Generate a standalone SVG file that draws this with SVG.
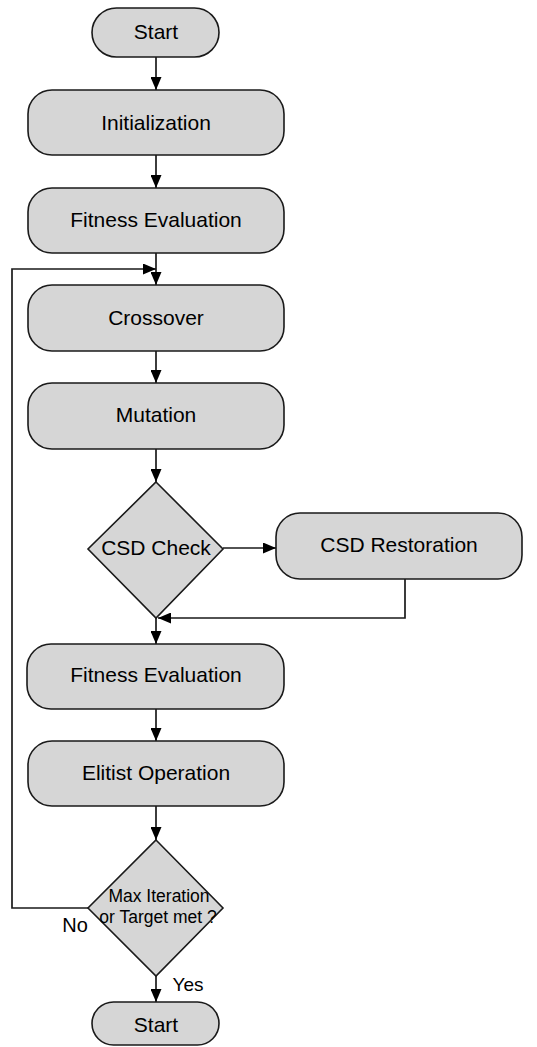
<svg xmlns="http://www.w3.org/2000/svg" width="537" height="1047" viewBox="0 0 537 1047">
<style>
.box{fill:#d6d6d6;stroke:#1a1a1a;stroke-width:1.6}
.lbl{font-family:"Liberation Sans",Arial,sans-serif;font-size:21px;fill:#000;text-anchor:middle}
.sm{font-family:"Liberation Sans",Arial,sans-serif;font-size:17.5px;fill:#000;text-anchor:middle}
.edge{fill:none;stroke:#1a1a1a;stroke-width:1.7}
</style>
<defs>
<marker id="ah" viewBox="0 0 13 11" refX="13" refY="5.5" markerWidth="13" markerHeight="11" markerUnits="userSpaceOnUse" orient="auto">
<path d="M0,0 L13,5.5 L0,11 Z" fill="#000"/>
</marker>
</defs>
<rect width="537" height="1047" fill="#fff"/>
<g id="connectors">
<line class="edge" x1="156" y1="57" x2="156" y2="90" marker-end="url(#ah)"/>
<line class="edge" x1="156" y1="155" x2="156" y2="188" marker-end="url(#ah)"/>
<line class="edge" x1="156" y1="253" x2="156" y2="285" marker-end="url(#ah)"/>
<line class="edge" x1="156" y1="351" x2="156" y2="383" marker-end="url(#ah)"/>
<line class="edge" x1="156" y1="449" x2="156" y2="482" marker-end="url(#ah)"/>
<line class="edge" x1="223" y1="548" x2="276" y2="548" marker-end="url(#ah)"/>
<polyline class="edge" points="405,579 405,618 158,618" marker-end="url(#ah)"/>
<line class="edge" x1="156" y1="618" x2="156" y2="644" marker-end="url(#ah)"/>
<line class="edge" x1="156" y1="709" x2="156" y2="741" marker-end="url(#ah)"/>
<line class="edge" x1="156" y1="806" x2="156" y2="840" marker-end="url(#ah)"/>
<polyline class="edge" points="88,908 12,908 12,269 156,269" marker-end="url(#ah)"/>
<line class="edge" x1="156" y1="976" x2="156" y2="1002" marker-end="url(#ah)"/>
<text class="lbl" x="75" y="932" style="font-size:20px">No</text>
<text class="lbl" x="188" y="991" style="font-size:19px">Yes</text>
</g>
<g id="start">
<rect class="box" x="92" y="8" width="127" height="49" rx="24.5"/>
<text class="lbl" x="156" y="39">Start</text>
</g>
<g id="init">
<rect class="box" x="28" y="90" width="256" height="65" rx="24"/>
<text class="lbl" x="156" y="130">Initialization</text>
</g>
<g id="fitness1">
<rect class="box" x="28" y="188" width="256" height="65" rx="24"/>
<text class="lbl" x="156" y="227">Fitness Evaluation</text>
</g>
<g id="crossover">
<rect class="box" x="28" y="285" width="256" height="66" rx="24"/>
<text class="lbl" x="156" y="325">Crossover</text>
</g>
<g id="mutation">
<rect class="box" x="28" y="383" width="256" height="66" rx="24"/>
<text class="lbl" x="156" y="422">Mutation</text>
</g>
<g id="csdcheck">
<polygon class="box" points="156,482 223,549 156,618 88,549"/>
<text class="lbl" x="156" y="555">CSD Check</text>
</g>
<g id="csdrestore">
<rect class="box" x="276" y="513" width="246" height="66" rx="24"/>
<text class="lbl" x="399" y="552">CSD Restoration</text>
</g>
<g id="fitness2">
<rect class="box" x="27" y="644" width="257" height="65" rx="24"/>
<text class="lbl" x="156" y="682">Fitness Evaluation</text>
</g>
<g id="elitist">
<rect class="box" x="28" y="741" width="256" height="65" rx="24"/>
<text class="lbl" x="156" y="780">Elitist Operation</text>
</g>
<g id="maxiter">
<polygon class="box" points="156,840 223,908 156,976 88,908"/>
<text class="sm" x="159" y="902">Max Iteration</text>
<text class="sm" x="158" y="923">or Target met ?</text>
</g>
<g id="end">
<rect class="box" x="92" y="1002" width="127" height="43" rx="21.5"/>
<text class="lbl" x="156" y="1032">Start</text>
</g>
</svg>
